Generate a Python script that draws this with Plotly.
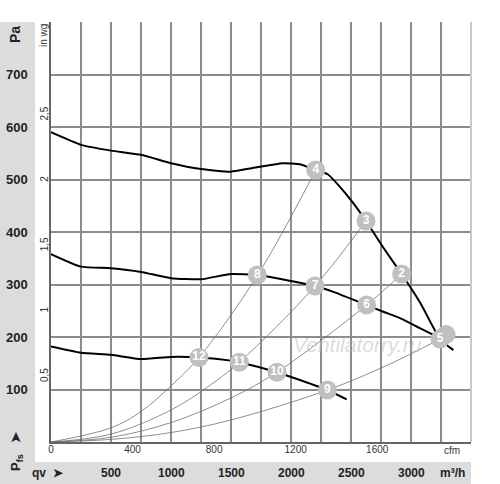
import plotly.graph_objects as go

# fan curves, q in m3/h, p in Pa
top_q = [0, 250, 500, 750, 1000, 1250, 1500, 1658, 1933, 2075, 2206, 2306, 2408, 2519, 2625, 2770, 2922, 3080, 3242, 3353]
top_p = [590, 566, 555, 547, 531, 520, 515, 521, 531, 529, 518, 510, 486, 455, 421, 370, 320, 264, 196, 175]

mid_q = [0, 250, 500, 750, 1000, 1250, 1500, 1719, 1881, 2200, 2353, 2630, 2769, 2908, 3047, 3186, 3242]
mid_p = [358, 334, 331, 324, 312, 310, 320, 318, 312, 297, 286, 261, 248, 236, 220, 204, 196]

bot_q = [0, 250, 500, 750, 1000, 1233, 1500, 1569, 1883, 2075, 2303, 2464]
bot_p = [182, 170, 166, 158, 162, 161, 155, 152, 133, 118, 99, 81]

# system curves
sys_q = [
    [0, 500, 750, 1000, 1233, 1722, 2206],
    [0, 500, 1000, 1300, 1569, 2200, 2625],
    [0, 500, 1000, 1500, 1883, 2630, 2922],
    [0, 500, 1000, 1500, 2303, 2800, 3242],
]
sys_p = [
    [0, 27, 58, 107, 161, 318, 518],
    [0, 15, 61, 104, 152, 297, 421],
    [0, 9, 37, 84, 133, 261, 320],
    [0, 5, 18, 42, 99, 146, 196],
]

# operating points
pt_labels = ['5', '4', '3', '2', '8', '7', '6', '12', '11', '10', '9']
pt_q = [3242, 2206, 2625, 2922, 1719, 2200, 2630, 1233, 1569, 1883, 2303]
pt_p = [196, 518, 421, 320, 318, 297, 261, 161, 152, 133, 99]
# point 1 hidden behind 5
hid_q = [3292]
hid_p = [205]

pa_ticks = [100, 200, 300, 400, 500, 600, 700]
m3h_ticks = [500, 1000, 1500, 2000, 2500, 3000]
cfm_ticks = [0, 400, 800, 1200, 1600]
inwg_ticks = [0.5, 1, 1.5, 2, 2.5]
inwg_text = ['0,5', '1', '1,5', '2', '2,5']

Q_MAX = 3500
P_MAX = 800
CFM = 1.699
INWG = 249.089

# plot area in pixels
L, T, W, H = 51, 22, 420, 420


def px_x(px):
    return (px - L) / W


def px_y(py):
    return (T + H - py) / H


def label(x, y, text, size, bold=False, angle=0, xref='paper', yref='paper', color='#222'):
    return dict(x=x, y=y, xref=xref, yref=yref, text=text, textangle=angle, showarrow=False,
                xanchor='center', yanchor='middle',
                font=dict(size=size, color=color, weight='bold' if bold else 'normal'))


fig = go.Figure()

for q, p in zip(sys_q, sys_p):
    fig.add_trace(go.Scatter(x=q, y=p, mode='lines', line=dict(color='#707070', width=0.8, shape='spline'),
                             hoverinfo='skip'))

for q, p in [(top_q, top_p), (mid_q, mid_p), (bot_q, bot_p)]:
    fig.add_trace(go.Scatter(x=q, y=p, mode='lines',
                             line=dict(color='black', width=2, shape='spline', smoothing=0.5),
                             hoverinfo='skip'))

fig.add_trace(go.Scatter(x=hid_q, y=hid_p, mode='markers', marker=dict(size=19, color='#c0c0c0'),
                         hoverinfo='skip'))
fig.add_trace(go.Scatter(x=pt_q, y=pt_p, mode='markers+text', text=pt_labels, textposition='middle center',
                         marker=dict(size=19, color='#c0c0c0', line=dict(width=0)),
                         textfont=dict(color='white', size=12, family='Liberation Sans', weight='bold'),
                         hoverinfo='skip'))

# dummy trace for secondary axes
fig.add_trace(go.Scatter(x=[0], y=[0], xaxis='x2', yaxis='y2', mode='markers', marker=dict(opacity=0),
                         hoverinfo='skip'))

fig.update_layout(
    width=500, height=484,
    margin=dict(l=L, r=500 - L - W, t=T, b=484 - T - H, autoexpand=False),
    paper_bgcolor='white', plot_bgcolor='white',
    showlegend=False,
    font=dict(family='Liberation Sans', color='#222'),
    xaxis=dict(range=[0, Q_MAX], tick0=0, dtick=250, showticklabels=False, ticks='', automargin=False,
               showgrid=True, gridcolor='#8c8c8c', gridwidth=1.5, zeroline=False,
               showline=True, linecolor='#666', linewidth=1.5),
    yaxis=dict(range=[0, P_MAX], tick0=0, dtick=100, showticklabels=False, ticks='', automargin=False,
               showgrid=True, gridcolor='#8c8c8c', gridwidth=1.5, zeroline=False,
               showline=True, linecolor='#666', linewidth=1.5),
    xaxis2=dict(range=[0, Q_MAX / CFM], overlaying='x', side='bottom', tickvals=cfm_ticks,
                showgrid=False, zeroline=False, ticks='', showline=False, automargin=False,
                tickfont=dict(size=10, color='#333')),
    yaxis2=dict(range=[0, P_MAX / INWG], overlaying='y', side='left', tickvals=inwg_ticks, ticktext=inwg_text,
                tickangle=-90, showgrid=False, zeroline=False, ticks='', showline=False, automargin=False,
                tickfont=dict(size=10, color='#333')),
)

shapes = [
    # grey bands
    dict(type='rect', xref='paper', yref='paper', x0=px_x(0), x1=px_x(35), y0=px_y(484), y1=px_y(22),
         fillcolor='#dcdcdc', line=dict(width=0), layer='below'),
    dict(type='rect', xref='paper', yref='paper', x0=px_x(0), x1=px_x(471), y0=px_y(484), y1=px_y(462),
         fillcolor='#dcdcdc', line=dict(width=0), layer='below'),
    # light right border
    dict(type='line', xref='paper', yref='paper', x0=1, x1=1, y0=0, y1=1,
         line=dict(color='#c8c8c8', width=2)),
]
fig.update_layout(shapes=shapes)

ann = []
for v in pa_ticks:
    ann.append(label(px_x(17), v, str(v), 13, bold=True, yref='y'))
for v in m3h_ticks:
    ann.append(label(v, px_y(473), str(v), 12, bold=True, xref='x'))
ann += [
    label(px_x(15), px_y(35), 'Pa', 14, bold=True, angle=-90),
    label(px_x(43), px_y(36), 'in wg', 10, angle=-90, color='#333'),
    label(px_x(17), px_y(452), 'P<sub>fs</sub>   ➤', 13, bold=True, angle=-90),
    label(px_x(48), px_y(473), 'qv  ➤', 12, bold=True),
    label(px_x(452), px_y(473), 'm³/h', 12, bold=True),
    label(px_x(452), px_y(451), 'cfm', 10, color='#333'),
]
ann.append(dict(x=px_x(357), y=px_y(344), xref='paper', yref='paper', text='<i>Ventilatorry.ru</i>',
                showarrow=False, xanchor='center', yanchor='middle',
                font=dict(size=21, color='rgba(190,190,190,0.55)', family='Liberation Sans')))
fig.update_layout(annotations=ann)

fig.write_html("out.html", config={'displayModeBar': False},
               post_script="document.body.style.margin='0';")
